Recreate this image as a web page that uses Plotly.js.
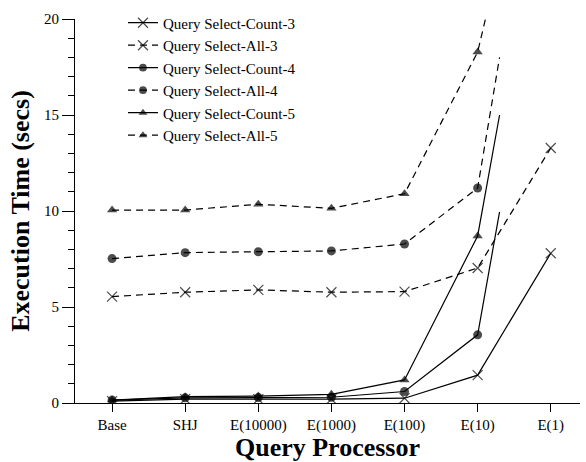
<!DOCTYPE html>
<html>
<head>
<meta charset="utf-8">
<script src="https://cdn.plot.ly/plotly-3.0.1.min.js"></script>
<style>html,body{margin:0;padding:0;background:#fff;}#chart{width:586px;height:462px;}</style>
</head>
<body>
<div id="chart"></div>
<script>
var categories = ['Base', 'SHJ', 'E(10000)', 'E(1000)', 'E(100)', 'E(10)', 'E(1)'];
var catPos = [0, 1, 2, 3, 4, 5, 6];

var count3 = [0.10, 0.20, 0.20, 0.20, 0.25, 1.45, 7.80];
var all3   = [5.54, 5.77, 5.89, 5.77, 5.80, 7.03, 13.28];
var count4 = [0.15, 0.27, 0.28, 0.30, 0.60, 3.55];
var all4   = [7.52, 7.83, 7.88, 7.92, 8.28, 11.20];
var count5 = [0.15, 0.33, 0.36, 0.45, 1.20, 8.70];
var all5   = [10.05, 10.05, 10.35, 10.14, 10.90, 18.28];

// off-scale tails (line continues past E(10) without a marker)
var tailCount4 = {x: 5.30, y: 9.96};
var tailAll4   = {x: 5.30, y: 18.0};
var tailCount5 = {x: 5.30, y: 15.0};
var tailAll5   = {x: 5.11, y: 20.05};

var names = ['Query Select-Count-3', 'Query Select-All-3', 'Query Select-Count-4',
             'Query Select-All-4', 'Query Select-Count-5', 'Query Select-All-5'];

function mk(name, vals, tail, symbol, dashed) {
  var x = catPos.slice(0, vals.length);
  var y = vals.slice();
  var sizes = vals.map(function () { return symbol === 'x-thin-open' ? 10 : 9; });
  if (tail) { x.push(tail.x); y.push(tail.y); sizes.push(0); }
  return {
    type: 'scatter', mode: 'lines+markers', name: name, x: x, y: y,
    line: {color: '#000', width: 1.2, dash: dashed ? '7px,5px' : 'solid'},
    marker: {symbol: symbol, size: sizes, color: '#000',
             line: {color: '#000', width: symbol === 'x-thin-open' ? 1.2 : 0}},
    cliponaxis: true
  };
}

var data = [
  mk(names[0], count3, null, 'x-thin-open', false),
  mk(names[1], all3, null, 'x-thin-open', true),
  mk(names[2], count4, tailCount4, 'circle', false),
  mk(names[3], all4, tailAll4, 'circle', true),
  mk(names[4], count5, tailCount5, 'triangle-up', false),
  mk(names[5], all5, tailAll5, 'triangle-up', true)
];

var serif = 'Liberation Serif, Times New Roman, serif';
var layout = {
  width: 586, height: 462,
  margin: {l: 75, r: 6, t: 19, b: 59, autoexpand: false},
  paper_bgcolor: '#fff', plot_bgcolor: '#fff',
  font: {family: serif, color: '#000', size: 15},
  showlegend: true,
  legend: {x: 0.095, xref: 'paper', y: 0.986, yref: 'container', xanchor: 'left', yanchor: 'top',
           bgcolor: 'rgba(0,0,0,0)',
           font: {family: serif, size: 15, color: '#000'}, tracegroupgap: 0, itemwidth: 30},
  xaxis: {
    range: [-0.507, 6.4], tickmode: 'array', tickvals: catPos, ticktext: categories,
    showgrid: false, zeroline: false, showline: true, linecolor: '#000', linewidth: 1,
    ticks: 'outside', ticklen: 8, tickwidth: 1, tickcolor: '#000',
    tickfont: {family: serif, size: 15, color: '#000'},
    title: {text: 'Query Processor', font: {family: serif, size: 26, color: '#000', weight: 'bold'}, standoff: 9}
  },
  yaxis: {
    range: [0, 20], tickvals: [0, 5, 10, 15, 20],
    showgrid: false, zeroline: false, showline: true, linecolor: '#000', linewidth: 1,
    ticks: 'outside', ticklen: 12, tickwidth: 1, tickcolor: '#000',
    minor: {dtick: 1, ticks: 'outside', ticklen: 6, tickwidth: 1, tickcolor: '#000', showgrid: false},
    tickfont: {family: serif, size: 15, color: '#000'},
    title: {text: 'Execution Time (secs)', font: {family: serif, size: 26, color: '#000', weight: 'bold'}, standoff: 6}
  }
};

Plotly.newPlot('chart', data, layout, {displayModeBar: false, staticPlot: true});
</script>
</body>
</html>
